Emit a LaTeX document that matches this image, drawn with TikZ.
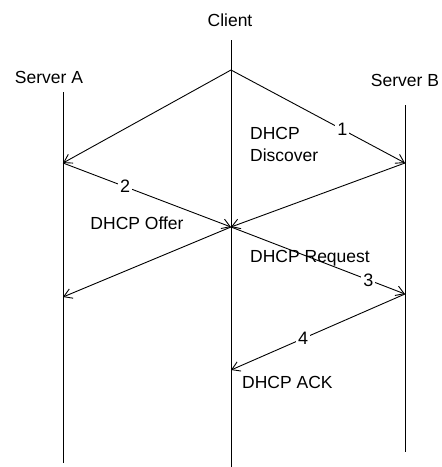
\documentclass[tikz,border=0pt]{standalone}
\usepackage{fontspec}
\setmainfont{Liberation Sans}
\usetikzlibrary{arrows.meta}

\tikzset{
  life/.style={line width=0.9pt},
  msg/.style={line width=0.9pt, -{Straight Barb[length=8pt,width=10pt]}},
  num/.style={fill=white, inner sep=2pt, font=\fontsize{18}{21}\selectfont},
  lbl/.style={inner sep=0pt, font=\fontsize{17.5}{21}\selectfont}
}

\begin{document}
\begin{tikzpicture}[x=1pt,y=-1pt]
                \useasboundingbox (0,0) rectangle (442,467);

                \node[lbl] (client) at (230,20) {Client};
                \node[lbl] (srvA) at (49,77) {Server A};
                \node[lbl] (srvB) at (405,80) {Server B};

                \coordinate (c0) at (231,40);
                \coordinate (c1) at (231,70);
                \coordinate (c2) at (231,227);
                \coordinate (c3) at (231,370);
                \coordinate (cEnd) at (231,467);
                \coordinate (a0) at (63,92);
                \coordinate (a1) at (63,163);
                \coordinate (a2) at (63,297);
                \coordinate (aEnd) at (63,463);
                \coordinate (b0) at (405,105);
                \coordinate (b1) at (405,163);
                \coordinate (b2) at (405,294);
                \coordinate (bEnd) at (405,452);

                \draw[life] (c0) -- (cEnd);
                \draw[life] (a0) -- (aEnd);
                \draw[life] (b0) -- (bEnd);

                \node[lbl, anchor=west, align=left] (discover) at (250,144) {DHCP\\[1pt]Discover};
                \node[lbl] (offer) at (137,223) {DHCP Offer};
                \node[lbl, anchor=west] (request) at (250,258) {DHCP Request};
                \node[lbl, anchor=west] (ack) at (242,382) {DHCP ACK};

                % broadcast and replies
                \draw[msg] (c1) -- (a1);
                \draw[msg] (c1) -- node[num, pos=0.64] (n1) {1} (b1);
                \draw[msg] (a1) -- node[num, pos=0.37] (n2) {2} (c2);
                \draw[msg] (b1) -- (c2);
                \draw[msg] (c2) -- (a2);
                \draw[msg] (c2) -- node[num, pos=0.79] (n3) {3} (b2);
                \draw[msg] (b2) -- node[num, pos=0.586] (n4) {4} (c3);
            \end{tikzpicture}
\end{document}
